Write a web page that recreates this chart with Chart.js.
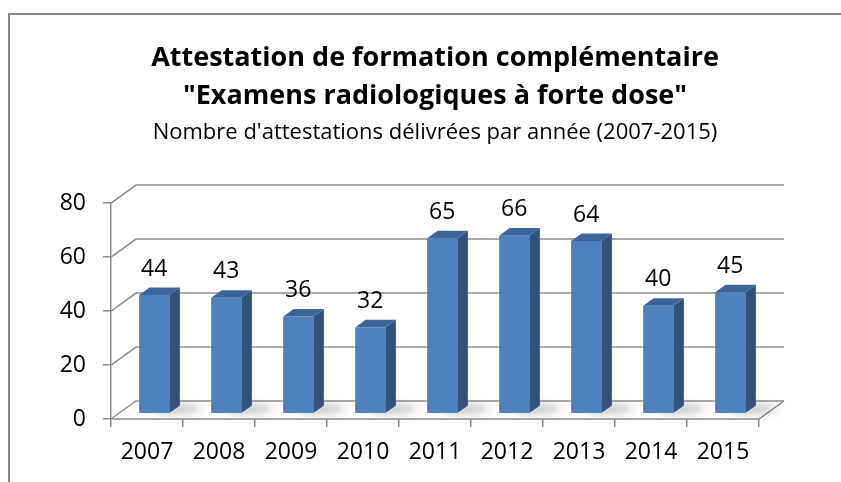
<!DOCTYPE html>
<html>
<head>
<meta charset="utf-8">
<script src="https://cdn.jsdelivr.net/npm/chart.js@4.4.0/dist/chart.umd.min.js"></script>
<style>
    html, body { margin: 0; padding: 0; background: #fff; }
    #wrap { width: 841px; height: 482px; }
</style>
</head>
<body>
<div id="wrap"><canvas id="chart"></canvas></div>
<script>
// Données
const years = ['2007', '2008', '2009', '2010', '2011', '2012', '2013', '2014', '2015'];
const attestations = [44, 43, 36, 32, 65, 66, 64, 40, 45];
const titleLines = ['Attestation de formation complémentaire', '"Examens radiologiques à forte dose"'];
const subtitleText = "Nombre d'attestations délivrées par année (2007-2015)";
const yMin = 0;
const yMax = 80;
const yStep = 20;

// Effet 3D (profondeur du mur arrière, position des barres dans la profondeur)
const DEPTH = { x: 25, y: -18 };
const BAR_FRONT = 0.29;
const BAR_BACK = 0.71;
const GRID_COLOR = '#8c8c8c';
const FONT = "'Open Sans', sans-serif";

const threeD = {
    id: 'threeD',
    beforeDraw(chart) {
        const ctx = chart.ctx;
        ctx.save();
        ctx.strokeStyle = '#888';
        ctx.lineWidth = 2;
        ctx.strokeRect(9, 14, 1000, 800);
        ctx.restore();
    },
    beforeDatasetsDraw(chart) {
        const ctx = chart.ctx;
        const area = chart.chartArea;
        const yScale = chart.scales.y;

        ctx.save();
        ctx.strokeStyle = GRID_COLOR;
        ctx.lineWidth = 1.5;
        // lignes de la grille : mur gauche + mur arrière
        yScale.ticks.forEach(t => {
            const y = yScale.getPixelForValue(t.value);
            ctx.beginPath();
            ctx.moveTo(area.left, y);
            ctx.lineTo(area.left + DEPTH.x, y + DEPTH.y);
            ctx.lineTo(area.right + DEPTH.x, y + DEPTH.y);
            ctx.stroke();
        });
        // sol : bord avant et bord droit
        const yb = yScale.getPixelForValue(0);
        ctx.beginPath();
        ctx.moveTo(area.left, yb);
        ctx.lineTo(area.right, yb);
        ctx.lineTo(area.right + DEPTH.x, yb + DEPTH.y);
        ctx.stroke();

        // ombres au sol
        const meta = chart.getDatasetMeta(0);
        ctx.filter = 'blur(4px)';
        ctx.fillStyle = 'rgba(0,0,0,0.25)';
        meta.data.forEach(bar => {
            const right = bar.x + bar.width / 2 + DEPTH.x * BAR_FRONT;
            const bottom = bar.base + DEPTH.y * BAR_FRONT;
            ctx.beginPath();
            ctx.ellipse(right + 8, bottom - 4, 24, 4, 0, 0, Math.PI * 2);
            ctx.fill();
        });
        ctx.restore();

        ctx.save();
        ctx.translate(DEPTH.x * BAR_FRONT, DEPTH.y * BAR_FRONT);
    },
    afterDatasetsDraw(chart) {
        const ctx = chart.ctx;
        ctx.restore();

        const meta = chart.getDatasetMeta(0);
        const fx = DEPTH.x * BAR_FRONT, fy = DEPTH.y * BAR_FRONT;
        const dx = DEPTH.x * (BAR_BACK - BAR_FRONT), dy = DEPTH.y * (BAR_BACK - BAR_FRONT);

        ctx.save();
        meta.data.forEach((bar, i) => {
            const left = bar.x - bar.width / 2 + fx;
            const right = bar.x + bar.width / 2 + fx;
            const top = bar.y + fy;
            const bottom = bar.base + fy;

            // face latérale
            ctx.fillStyle = '#31527c';
            ctx.beginPath();
            ctx.moveTo(right, top);
            ctx.lineTo(right + dx, top + dy);
            ctx.lineTo(right + dx, bottom + dy);
            ctx.lineTo(right, bottom);
            ctx.closePath();
            ctx.fill();

            // dessus
            ctx.fillStyle = '#3c6699';
            ctx.beginPath();
            ctx.moveTo(left, top);
            ctx.lineTo(left + dx, top + dy);
            ctx.lineTo(right + dx, top + dy);
            ctx.lineTo(right, top);
            ctx.closePath();
            ctx.fill();

            // étiquette de valeur
            ctx.fillStyle = '#000';
            ctx.font = '23px ' + FONT;
            ctx.textAlign = 'center';
            ctx.textBaseline = 'middle';
            ctx.fillText(String(attestations[i]), (left + right) / 2, top - 26);
        });
        ctx.restore();
    }
};

new Chart(document.getElementById('chart'), {
    type: 'bar',
    data: {
        labels: years,
        datasets: [{
            data: attestations,
            backgroundColor: '#4f81bd',
            borderWidth: 0,
            categoryPercentage: 1,
            barPercentage: 0.42
        }]
    },
    options: {
        responsive: true,
        maintainAspectRatio: false,
        animation: false,
        layout: {
            padding: { left: 0, right: 82, top: 0, bottom: 0 }
        },
        plugins: {
            legend: { display: false },
            tooltip: { enabled: false },
            title: {
                display: true,
                text: titleLines,
                fullSize: false,
                color: '#000',
                font: { family: FONT, size: 27, weight: 'bold', lineHeight: 1.42 },
                padding: { top: 39, bottom: 0 }
            },
            subtitle: {
                display: true,
                text: subtitleText,
                fullSize: false,
                color: '#000',
                font: { family: FONT, size: 22, lineHeight: 1.2 },
                padding: { top: 4, bottom: 57 }
            }
        },
        scales: {
            x: {
                afterFit(scale) { scale.height = 63; },
                grid: {
                    offset: true,
                    drawOnChartArea: false,
                    color: GRID_COLOR,
                    lineWidth: 1.5,
                    tickLength: 8
                },
                border: { display: false },
                ticks: {
                    color: '#000',
                    padding: 12,
                    font: { family: FONT, size: 23 }
                }
            },
            y: {
                min: yMin,
                max: yMax,
                afterFit(scale) { scale.width = 111; },
                grid: {
                    drawOnChartArea: false,
                    color: GRID_COLOR,
                    lineWidth: 1.5,
                    tickLength: 8
                },
                border: { display: true, color: GRID_COLOR, width: 1.5 },
                ticks: {
                    stepSize: yStep,
                    color: '#000',
                    padding: 17,
                    font: { family: FONT, size: 23 }
                }
            }
        }
    },
    plugins: [threeD]
});
</script>
</body>
</html>
